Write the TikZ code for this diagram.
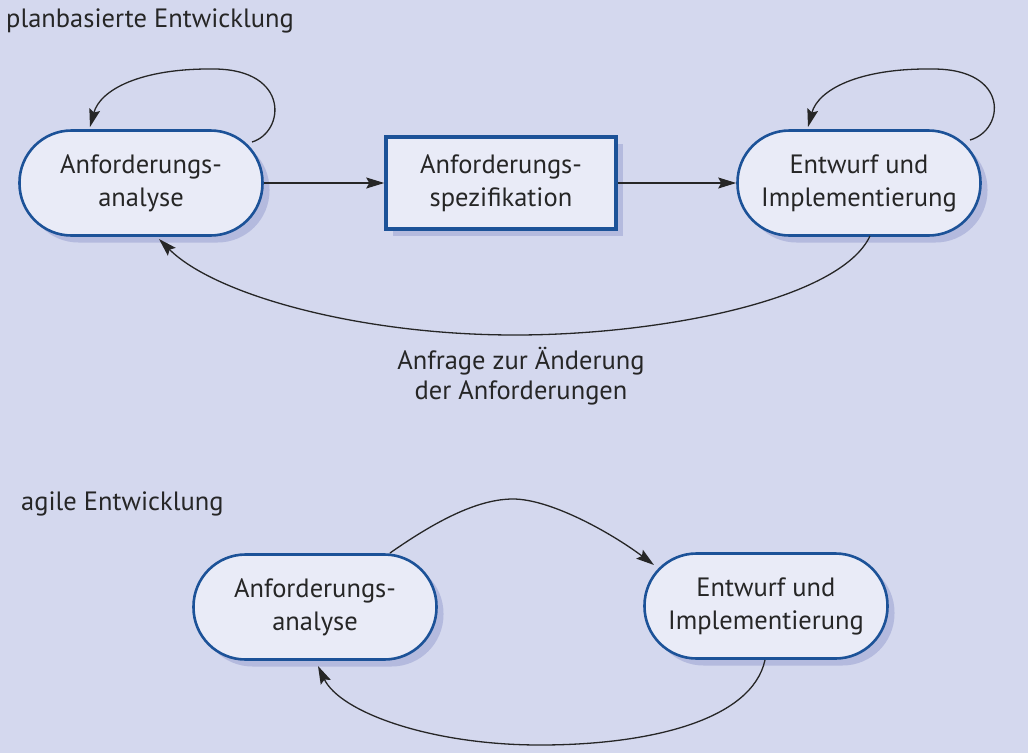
\documentclass[tikz,border=0pt]{standalone}
\usepackage{fontspec}
\setmainfont{PT Sans}
\usetikzlibrary{shadows,arrows.meta,calc}
\definecolor{bgc}{RGB}{212,216,238}
\definecolor{nodefill}{RGB}{233,235,247}
\definecolor{bordc}{RGB}{28,82,152}
\definecolor{shadc}{RGB}{180,186,222}
\definecolor{txtc}{RGB}{38,38,38}
\begin{document}
\begin{tikzpicture}[x=1pt,y=-1pt,
  every node/.style={text=txtc,font=\fontsize{26.5}{33}\selectfont},
  rnode/.style={draw=bordc,line width=2.6pt,fill=nodefill,rounded corners=52pt,
    minimum width=243pt,minimum height=105pt,inner sep=0pt,align=center,
    drop shadow={shadow xshift=7pt,shadow yshift=-7pt,fill=shadc,opacity=1}},
  snode/.style={draw=bordc,line width=3.5pt,fill=nodefill,
    minimum width=230pt,minimum height=92pt,inner sep=0pt,align=center,
    drop shadow={shadow xshift=7pt,shadow yshift=-7pt,fill=shadc,opacity=1}},
  arr/.style={line width=1.3pt,draw=black!85,-{Stealth[length=18pt,width=11pt,inset=3pt]}}]
\fill[bgc] (0,0) rectangle (1028,753);
\useasboundingbox (0,0) rectangle (1028,753);

\node[anchor=base west,inner sep=0pt] (t1) at (6,27) {planbasierte Entwicklung};
\node[anchor=base west,inner sep=0pt] (t2) at (21,510) {agile Entwicklung};

\node[rnode] (a1) at (141,183) {Anforderungs-\\analyse};
\node[snode] (s) at (501,183) {Anforderungs-\\spezifikation};
\node[rnode] (e1) at (859,183) {Entwurf und\\Implementierung};

\draw[arr] (a1) -- (s);
\draw[arr] (s) -- (e1);

\draw[arr] ([shift={(111,-41)}]a1.center) .. controls ([shift={(144,-51)}]a1.center) and ([shift={(149,-113)}]a1.center) .. ([shift={(74,-114)}]a1.center)
  .. controls ([shift={(-1,-115)}]a1.center) and ([shift={(-41,-93)}]a1.center) .. ([shift={(-51,-56)}]a1.center);
\draw[arr] ([shift={(111,-43)}]e1.center) .. controls ([shift={(146,-53)}]e1.center) and ([shift={(151,-114)}]e1.center) .. ([shift={(74,-114)}]e1.center)
  .. controls ([shift={(-1,-115)}]e1.center) and ([shift={(-41,-93)}]e1.center) .. ([shift={(-51,-56)}]e1.center);

\draw[arr] ([shift={(11,53)}]e1.center) .. controls (840,300) and (660,335) .. (515,335)
  .. controls (360,335) and (215,295) .. ([shift={(18,56)}]a1.center);

\node[align=center,font=\fontsize{26.5}{30}\selectfont] (lbl) at (521,376) {Anfrage zur Änderung\\der Anforderungen};

\node[rnode] (a2) at (315,607) {Anforderungs-\\analyse};
\node[rnode] (e2) at (766,606) {Entwurf und\\Implementierung};

\draw[arr] ([shift={(75,-54)}]a2.center) .. controls (440,518) and (480,499) .. (513,499)
  .. controls (550,499) and (610,532) .. ([shift={(-112,-41)}]e2.center);
\draw[arr] ([shift={(-1,54)}]e2.center) .. controls (752,720) and (650,745) .. (540,745)
  .. controls (430,745) and (340,712) .. ([shift={(3,59)}]a2.center);
\end{tikzpicture}
\end{document}
